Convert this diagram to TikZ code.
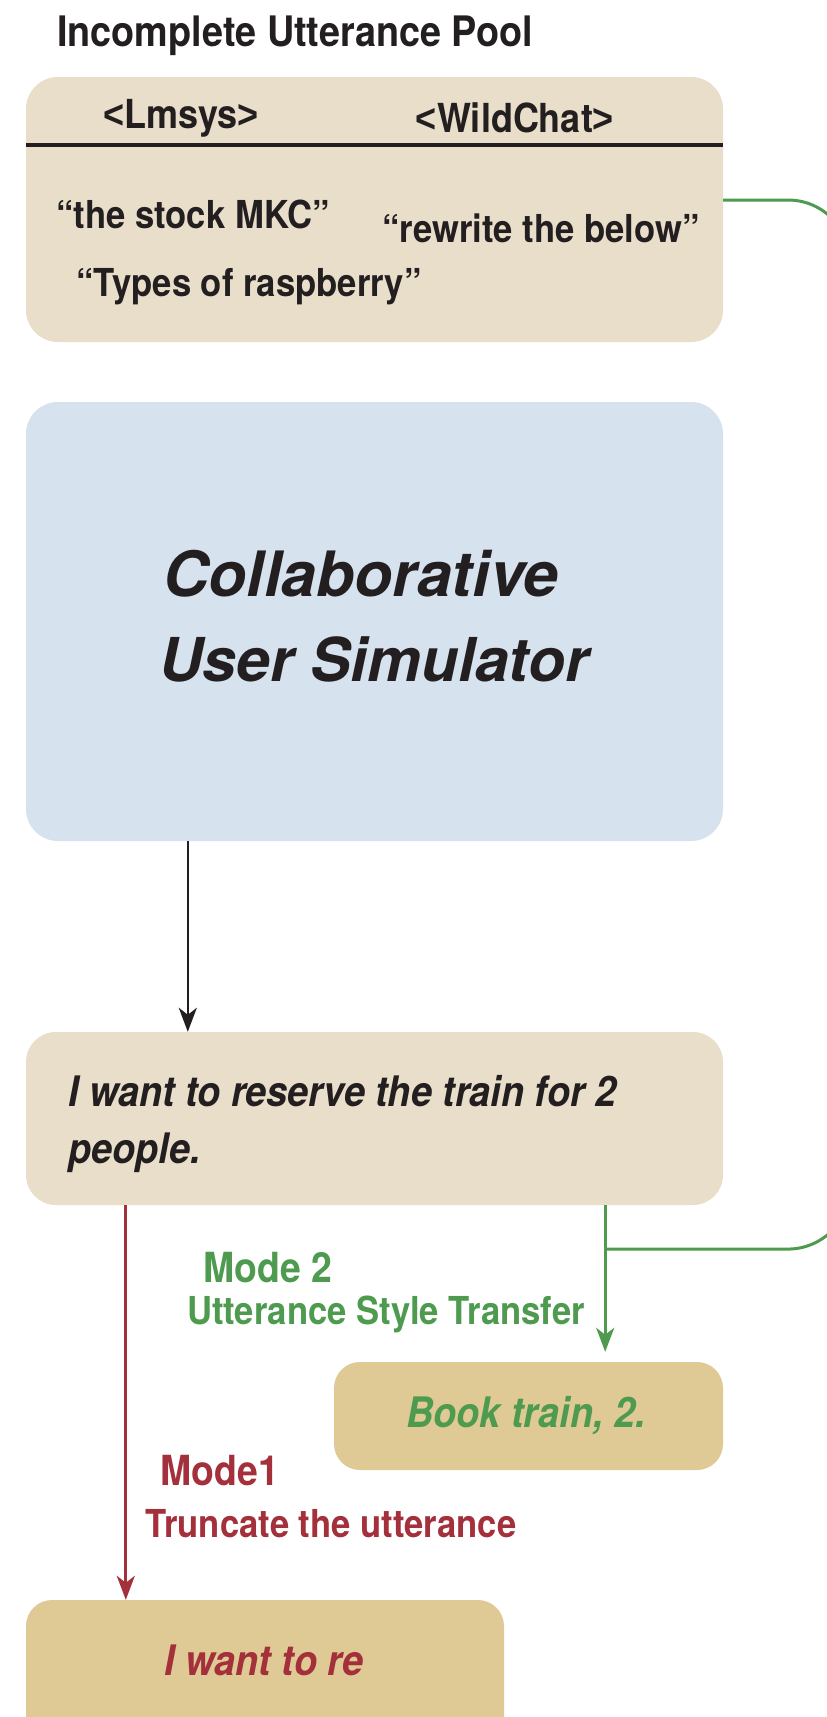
\documentclass[tikz,border=0pt]{standalone}
\usepackage{fontspec}
\setmainfont{TeX Gyre Heros}
\newfontfamily\cnfont{TeX Gyre Heros}[FakeStretch=0.9]
\newfontfamily\brkfont{Liberation Sans}[FakeStretch=0.9]
\usetikzlibrary{arrows.meta}

\definecolor{poolfill}{HTML}{E8DECA}
\definecolor{simfill}{HTML}{D6E2ED}
\definecolor{outfill}{HTML}{DFCA95}
\definecolor{modegreen}{HTML}{4E9A4F}
\definecolor{modered}{HTML}{A3303A}
\definecolor{ink}{HTML}{231F20}

\newcommand{\lbrk}{{\brkfont\bfseries<}}
\newcommand{\rbrk}{{\brkfont\bfseries>}}

\begin{document}
\begin{tikzpicture}[x=1pt,y=-1pt,
  box/.style={draw=none, inner sep=0pt, rounded corners=#1},
  box/.default=32pt,
  small/.style={text=ink, font=\cnfont\bfseries\fontsize{38.5}{44}\selectfont, inner sep=0pt},
  modelabel/.style={font=\cnfont\bfseries\fontsize{41.5}{46}\selectfont, inner sep=0pt},
  desclabel/.style={font=\cnfont\bfseries\fontsize{38.5}{44}\selectfont, inner sep=0pt},
  simlabel/.style={text=ink, inner sep=0pt, font=\bfseries\itshape\fontsize{62}{86}\selectfont},
  tip/.style={-{Stealth[length=24pt,width=18pt,inset=7pt]}},
]
\clip (0,0) rectangle (827,1717);
\fill[white] (0,0) rectangle (827,1717);

% title
\node[small, font=\cnfont\bfseries\fontsize{42}{46}\selectfont, anchor=west] (title) at (57,36) {Incomplete Utterance Pool};

% utterance pool
\node[box, fill=poolfill, minimum width=697pt, minimum height=265pt] (pool) at (374.5,209.5) {};
\draw[ink, line width=3.2pt] (pool.west |- 0,145) coordinate (hl) -- (pool.east |- 0,145) coordinate (hr);
\node[small, font=\cnfont\bfseries\fontsize{40}{44}\selectfont] (lmsys) at (181,118) {\lbrk Lmsys\rbrk};
\node[small, font=\cnfont\bfseries\fontsize{40}{44}\selectfont] (wild) at (515,118) {\lbrk WildChat\rbrk};
\node[small] (u1) at (193,214) {“the stock MKC”};
\node[small] (u2) at (541,228) {“rewrite the below”};
\node[small] (u3) at (249,287) {“Types of raspberry”};

% simulator
\node[box, fill=simfill, minimum width=697pt, minimum height=439pt] (sim) at (374.5,621.5) {};
\node[simlabel, font=\bfseries\itshape\fontsize{62.5}{86}\selectfont] (simtop) at (361,574) {Collaborative};
\node[simlabel, font=\bfseries\itshape\fontsize{60.5}{86}\selectfont] (simbot) at (374,659) {User Simulator};

% generated utterance
\node[box=30pt, fill=poolfill, minimum width=697pt, minimum height=173pt] (utt) at (374.5,1118.5) {};
\node[text=ink, align=left, anchor=north west, inner sep=0pt,
      font=\cnfont\bfseries\itshape\fontsize{42}{57}\selectfont] (utttext) at (68,1075)
      {I want to reserve the train for 2\\people.};

% mode 2 output
\node[box=26pt, fill=outfill, minimum width=389pt, minimum height=108pt] (book) at (528.5,1416) {};
\node[modelabel, text=modegreen, font=\cnfont\bfseries\itshape\fontsize{42}{46}\selectfont] (booktext) at (526,1416) {Book train, 2.};

% mode 1 output
\node[box=26pt, fill=outfill, minimum width=478pt, minimum height=180pt] (trunc) at (265,1690) {};
\node[modelabel, text=modered, font=\cnfont\bfseries\itshape\fontsize{42}{46}\selectfont] (trunctext) at (264,1660) {I want to re};

% labels
\node[modelabel, text=modegreen] (m2) at (268,1268) {Mode 2};
\node[desclabel, text=modegreen] (m2d) at (386,1314) {Utterance Style Transfer};
\node[modelabel, text=modered] (m1) at (220,1471) {Mode1};
\node[desclabel, text=modered] (m1d) at (331,1524) {Truncate the utterance};

% connectors
\draw[ink, line width=2.6pt, tip] ([xshift=162pt]sim.south west) -- ([xshift=162pt]utt.north west);
\draw[modered, line width=3pt, tip] ([xshift=100pt]utt.south west) -- ([xshift=100pt]trunc.north west);
\draw[modegreen, line width=3pt, tip, shorten >=10pt] ([xshift=-118pt]utt.south east) -- ([xshift=-118pt]book.north east);
\coordinate (junc) at ([xshift=-118pt,yshift=-44pt]utt.south east);
\coordinate (loopout) at ([yshift=9.5pt]pool.east);
\draw[modegreen, line width=3pt, rounded corners=62pt]
  (loopout) -- (850,200) -- (850,1249) -- (junc);
\end{tikzpicture}
\end{document}
